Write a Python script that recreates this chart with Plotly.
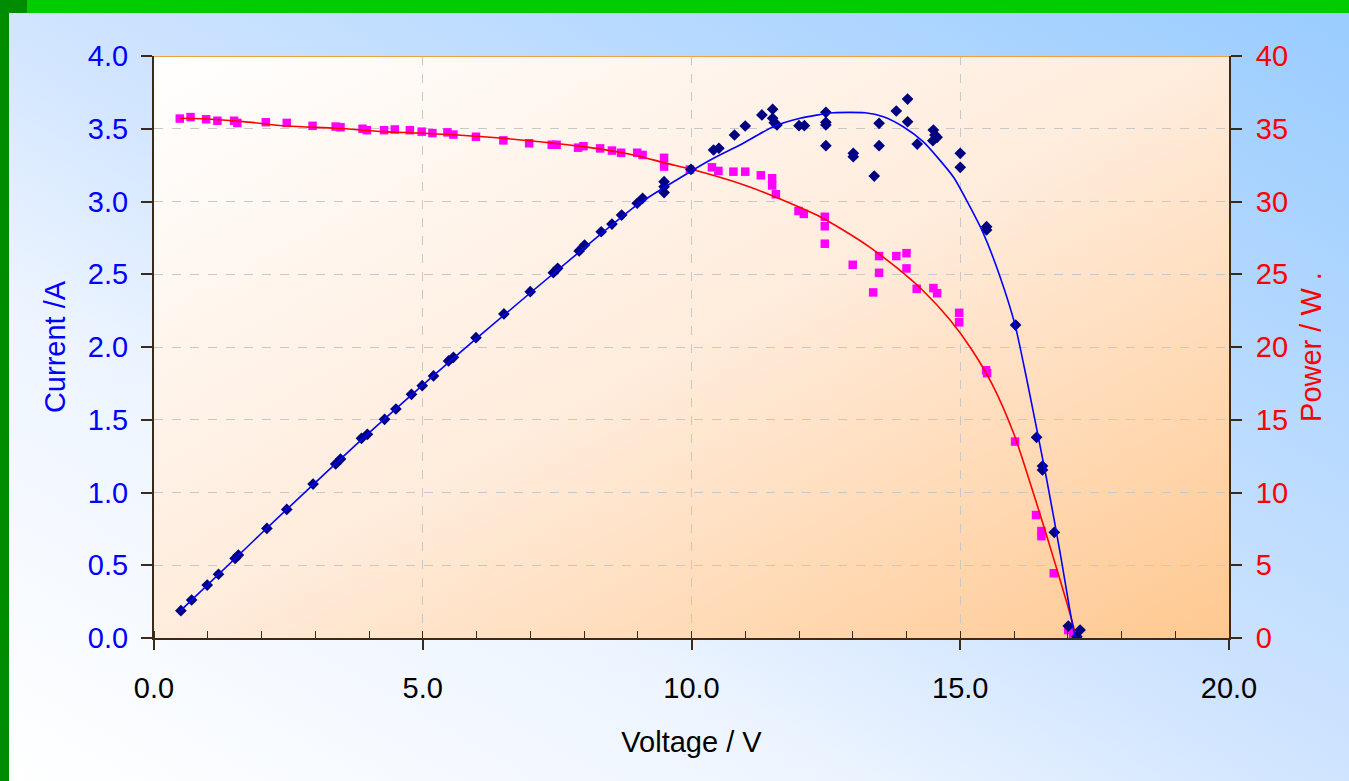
import base64
import plotly.graph_objects as go

# ---------------- data ----------------
# Measured current (A) vs voltage (V) - magenta squares
cur_V = [0.48, 0.68, 0.97, 1.18, 1.49, 1.55, 2.08, 2.47, 2.95, 3.38, 3.47, 3.88, 3.96,
         4.28, 4.48, 4.76, 4.98, 5.18, 5.46, 5.57, 5.99, 6.50, 6.98, 7.40, 7.49, 7.89,
         7.99, 8.30, 8.52, 8.69, 8.99, 9.09, 9.49, 9.49, 9.97, 10.38, 10.50, 10.78, 11.00,
         11.29, 11.50, 11.50, 11.57, 11.99, 12.09, 12.48, 12.48, 12.48, 13.00, 13.49, 13.49,
         13.38, 13.81, 14.00, 14.00, 14.19, 14.50, 14.57, 14.98, 14.98, 15.48, 15.50, 16.02,
         16.41, 16.51, 16.51, 16.74, 17.01, 17.10, 17.17]
cur_I = [3.57, 3.58, 3.565, 3.555, 3.555, 3.54, 3.545, 3.54, 3.52, 3.515, 3.51, 3.50, 3.49,
         3.49, 3.495, 3.49, 3.48, 3.47, 3.475, 3.46, 3.445, 3.42, 3.40, 3.39, 3.39, 3.37,
         3.38, 3.365, 3.35, 3.335, 3.335, 3.32, 3.30, 3.24, 3.22, 3.235, 3.21, 3.205, 3.205,
         3.18, 3.16, 3.11, 3.05, 2.935, 2.915, 2.895, 2.83, 2.71, 2.565, 2.625, 2.51,
         2.375, 2.625, 2.645, 2.54, 2.40, 2.405, 2.37, 2.235, 2.17, 1.84, 1.82, 1.35,
         0.845, 0.735, 0.70, 0.445, 0.055, 0.03, 0.02]

# Measured power (W) vs voltage (V) - navy diamonds
pow_V = [0.50, 0.70, 0.99, 1.20, 1.51, 1.57, 2.10, 2.47, 2.96, 3.38, 3.47, 3.86, 3.97, 4.29,
         4.50, 4.79, 4.99, 5.20, 5.48, 5.57, 5.99, 6.51, 7.00, 7.43, 7.51, 7.91, 8.01, 8.32,
         8.52, 8.70, 8.99, 9.09, 9.49, 9.49, 9.49, 9.99, 10.41, 10.51, 10.80, 11.00, 11.31,
         11.51, 11.51, 11.54, 11.59, 12.00, 12.10, 12.50, 12.50, 12.50, 12.50, 13.01, 13.01,
         13.40, 13.49, 13.49, 13.81, 14.02, 14.02, 14.20, 14.50, 14.53, 14.57, 14.49, 15.00,
         15.00, 15.49, 15.49, 16.03, 16.42, 16.53, 16.53, 16.75, 17.01, 17.23, 17.17]
pow_P = [1.88, 2.61, 3.64, 4.38, 5.47, 5.70, 7.53, 8.84, 10.58, 11.96, 12.30, 13.72, 14.00,
         15.03, 15.74, 16.75, 17.34, 18.01, 19.04, 19.29, 20.64, 22.27, 23.80, 25.11, 25.41,
         26.60, 27.01, 27.92, 28.45, 29.07, 29.88, 30.22, 31.36, 31.02, 30.61, 32.21, 33.54,
         33.66, 34.57, 35.19, 35.95, 36.34, 35.72, 35.42, 35.26, 35.21, 35.21, 36.13, 35.44,
         35.26, 33.84, 33.31, 33.08, 31.75, 35.37, 33.84, 36.22, 37.04, 35.48, 33.95, 34.91,
         34.57, 34.41, 34.18, 33.31, 32.35, 28.27, 28.04, 21.51, 13.79, 11.82, 11.55, 7.26,
         0.82, 0.55, 0.09]

# Trend line of the current (red)
ifit_V = [0.48, 0.98, 1.66, 2.47, 3.40, 4.27, 5.01, 6.13, 7.18, 7.99, 8.92, 9.54, 10.00,
          11.03, 11.77, 12.33, 12.82, 13.30, 13.80, 14.30, 14.80, 15.20, 15.60, 16.00,
          16.40, 16.80, 17.10, 17.15]
ifit_I = [3.572, 3.567, 3.549, 3.519, 3.503, 3.480, 3.469, 3.445, 3.411, 3.377, 3.320,
          3.262, 3.221, 3.107, 2.999, 2.907, 2.804, 2.69, 2.55, 2.39, 2.19, 1.99, 1.74,
          1.40, 0.95, 0.47, 0.09, 0.0]

# Trend line of the power (blue)
pfit_V = [0.5, 2.0, 4.0, 6.0, 8.0, 9.0, 10.0, 10.41, 10.90, 11.52, 12.02, 12.64, 13.23,
          13.57, 13.94, 14.31, 14.87, 15.18, 15.43, 15.74, 16.02, 16.24, 16.61, 16.86,
          17.10, 17.15]
pfit_P = [1.9, 7.2, 14.1, 20.6, 26.8, 29.8, 32.1, 32.97, 33.88, 35.14, 35.72, 36.10, 36.10,
          35.83, 35.14, 34.11, 31.70, 29.64, 27.81, 24.83, 21.51, 17.73, 10.86, 5.82,
          0.67, 0.0]

x_ticks = [0, 5, 10, 15, 20]
x_ticklabels = ["0.0", "5.0", "10.0", "15.0", "20.0"]
yl_ticks = [0, 0.5, 1.0, 1.5, 2.0, 2.5, 3.0, 3.5, 4.0]
yl_ticklabels = ["0.0", "0.5", "1.0", "1.5", "2.0", "2.5", "3.0", "3.5", "4.0"]
yr_ticks = [0, 5, 10, 15, 20, 25, 30, 35, 40]
yr_ticklabels = ["0", "5", "10", "15", "20", "25", "30", "35", "40"]

# ---------------- figure ----------------
FONT = "Liberation Sans, Arial, sans-serif"
FS = 29
W, H = 1349, 781
ML, MR, MT, MB = 154, 120, 56, 143
PW, PH = W - ML - MR, H - MT - MB


def svg_grad(stops, x1, y1, x2, y2):
    st = "".join(f'<stop offset="{o}" stop-color="{c}"/>' for o, c in stops)
    svg = (f'<svg xmlns="http://www.w3.org/2000/svg" width="200" height="200" '
           f'viewBox="0 0 200 200" preserveAspectRatio="none"><defs>'
           f'<linearGradient id="g" x1="{x1}" y1="{y1}" x2="{x2}" y2="{y2}">{st}'
           f'</linearGradient></defs><rect width="200" height="200" fill="url(#g)"/></svg>')
    return "data:image/svg+xml;base64," + base64.b64encode(svg.encode()).decode()


paper_img = svg_grad([(0, "#FFFFFF"), (0.3, "#EEF5FF"), (0.5, "#CFE4FF"), (1, "#99CCFF")],
                     0, 1, 1, 0)
plot_img = svg_grad([(0, "#FFFFFF"), (0.5, "#FFECDC"), (1, "#FFC890")], 0, 0, 1, 1)

fig = go.Figure()

fig.add_trace(go.Scatter(x=cur_V, y=cur_I, mode="markers", name="Current",
                         marker=dict(symbol="square", size=8.5, color="#FF00FF",
                                     line=dict(width=0)), yaxis="y"))
fig.add_trace(go.Scatter(x=pow_V, y=pow_P, mode="markers", name="Power",
                         marker=dict(symbol="diamond", size=9, color="#000080",
                                     line=dict(width=0)), yaxis="y2"))
fig.add_trace(go.Scatter(x=ifit_V, y=ifit_I, mode="lines", name="Current trend",
                         line=dict(color="#FF0000", width=1.6, shape="spline", smoothing=0.8),
                         yaxis="y"))
fig.add_trace(go.Scatter(x=pfit_V, y=pfit_P, mode="lines", name="Power trend",
                         line=dict(color="#0000FF", width=1.6, shape="spline", smoothing=0.6),
                         yaxis="y2"))

AX = "#3A2A1A"
fig.update_layout(
    width=W, height=H,
    margin=dict(l=ML, r=MR, t=MT, b=MB, pad=0),
    paper_bgcolor="#DDEEFF",
    plot_bgcolor="rgba(0,0,0,0)",
    showlegend=False,
    font=dict(family=FONT, size=FS, color="black"),
    xaxis=dict(
        range=[0, 20], tickvals=x_ticks, ticktext=x_ticklabels,
        ticks="outside", ticklen=10, tickwidth=1.5, tickcolor=AX,
        showline=True, linecolor=AX, linewidth=2,
        showgrid=True, gridcolor="#C8C8C8", griddash="dash", gridwidth=1,
        zeroline=False,
        minor=dict(dtick=1, ticks="inside", ticklen=7, tickcolor=AX, tickwidth=1.2,
                   showgrid=False),
        tickfont=dict(size=FS, color="black"),
        ticklabelstandoff=13,
        title=dict(text="Voltage / V", font=dict(size=FS, color="black"), standoff=29),
    ),
    yaxis=dict(
        range=[0, 4], tickvals=yl_ticks, ticktext=yl_ticklabels,
        ticks="outside", ticklen=11, tickwidth=1.5, tickcolor=AX,
        showline=True, linecolor=AX, linewidth=2,
        showgrid=True, gridcolor="#C8C8C8", griddash="dash", gridwidth=1,
        zeroline=False,
        tickfont=dict(size=FS, color="#0000FF"),
        ticklabelstandoff=7,
        title=dict(text="Current /A", font=dict(size=FS, color="#0000FF"), standoff=14),
    ),
    yaxis2=dict(
        range=[0, 40], tickvals=yr_ticks, ticktext=yr_ticklabels,
        overlaying="y", side="right",
        ticks="outside", ticklen=11, tickwidth=1.5, tickcolor=AX,
        showline=True, linecolor=AX, linewidth=2,
        showgrid=False, zeroline=False,
        tickfont=dict(size=FS, color="#FF0000"),
        ticklabelstandoff=8,
        title=dict(text="Power / W .", font=dict(size=FS, color="#FF0000"), standoff=14),
    ),
    images=[
        dict(source=paper_img, xref="paper", yref="paper",
             x=-ML / PW, y=1 + MT / PH, sizex=W / PW, sizey=H / PH,
             xanchor="left", yanchor="top", sizing="stretch", layer="below"),
        dict(source=plot_img, xref="x", yref="y", x=0, y=4, sizex=20, sizey=4,
             xanchor="left", yanchor="top", sizing="stretch", layer="below"),
    ],
    shapes=[
        # green frame of the slide
        dict(type="rect", xref="paper", yref="paper",
             x0=(27 - ML) / PW, x1=(W - ML) / PW,
             y0=1 + (MT - 13) / PH, y1=1 + MT / PH,
             fillcolor="#00CC00", line=dict(width=0), layer="below"),
        dict(type="rect", xref="paper", yref="paper",
             x0=-ML / PW, x1=(27 - ML) / PW,
             y0=1 + (MT - 13) / PH, y1=1 + MT / PH,
             fillcolor="#008C00", line=dict(width=0), layer="below"),
        dict(type="rect", xref="paper", yref="paper",
             x0=-ML / PW, x1=(9 - ML) / PW,
             y0=-MB / PH, y1=1 + MT / PH,
             fillcolor="#008C00", line=dict(width=0), layer="below"),
        # orange top edge of the plot area
        dict(type="line", xref="x", yref="y", x0=0, x1=20, y0=4, y1=4,
             line=dict(color="#F0A040", width=2), layer="above"),
    ],
)

fig.write_html("out.html", config={"displayModeBar": False},
               post_script="document.body.style.margin='0';document.body.style.overflow='hidden';")
